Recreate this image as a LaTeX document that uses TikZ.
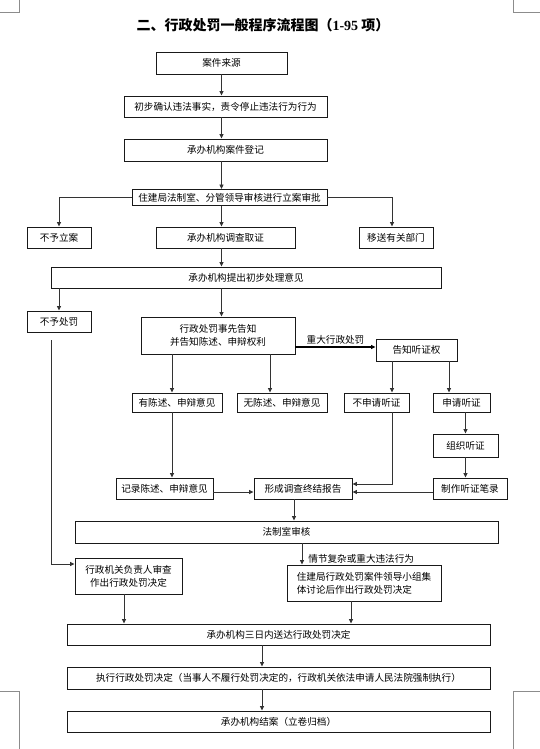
\documentclass[tikz,border=0pt]{standalone}
\usepackage{fontspec}
\setmainfont{Noto Sans CJK SC}
\newfontfamily\titlenum{Liberation Serif}
\usetikzlibrary{arrows.meta,positioning,calc}

\begin{document}
\begin{tikzpicture}[x=1pt, y=-1pt,
    box/.style={rectangle, draw=black!90, line width=0.9pt, minimum width=#1, minimum height=21pt, inner sep=1pt, font=\fontsize{9.6}{13}\selectfont, align=center},
    arr/.style={-{Triangle[length=4.5pt, width=4pt]}, line width=0.85pt, draw=black!80},
    heavy/.style={line width=1.6pt, draw=black},
    lbl/.style={font=\fontsize{9.6}{11}\selectfont, inner sep=2pt},
    cropmark/.style={draw=black!45, line width=0.6pt}
]
\useasboundingbox (0,0) rectangle (540,749);
\draw[cropmark] (19,0) -- (19,12) -- (0,12);
\draw[cropmark] (513,0) -- (513,12) -- (540,12);
\draw[cropmark] (0,691) -- (19,691) -- (19,749);
\draw[cropmark] (540,691) -- (513,691) -- (513,749);

\node[font=\fontsize{14}{16}\selectfont\bfseries] (title) at (263,25) {二、行政处罚一般程序流程图（{\titlenum 1-95} 项）};

\node[box=131pt, minimum height=22pt] (src) at (221.5,63) {案件来源};
\node[box=203pt] (confirm) at (225.5,106.5) {初步确认违法事实，责令停止违法行为行为};
\node[box=203pt, minimum height=22pt] (reg) at (225.5,150) {承办机构案件登记};
\node[box=195pt, minimum height=16pt] (approve) at (229.5,197.5) {住建局法制室、分管领导审核进行立案审批};
\node[box=64pt] (nocase) at (59,237.5) {不予立案};
\node[box=139pt] (invest) at (225.5,237.5) {承办机构调查取证};
\node[box=74pt] (transfer) at (396,237.5) {移送有关部门};
\node[box=390pt] (propose) at (246,277.5) {承办机构提出初步处理意见};
\node[box=64pt] (nopen) at (59,321.5) {不予处罚};
\node[box=154pt, minimum height=37pt] (notify) at (218,335.5) {行政处罚事先告知\\并告知陈述、申辩权利};
\node[box=81pt, minimum height=22pt] (hear) at (416.5,350) {告知听证权};
\node[box=90pt, minimum height=19pt] (stmt) at (177,402.5) {有陈述、申辩意见};
\node[box=90pt, minimum height=19pt] (nostmt) at (282,402.5) {无陈述、申辩意见};
\node[box=65pt, minimum height=19pt] (noapply) at (376.5,402.5) {不申请听证};
\node[box=57pt, minimum height=19pt] (apply) at (461.5,402.5) {申请听证};
\node[box=65pt, minimum height=23pt] (organize) at (465.5,445.5) {组织听证};
\node[box=97pt] (record) at (164.5,488.5) {记录陈述、申辩意见};
\node[box=98pt] (report) at (303,488.5) {形成调查终结报告};
\node[box=74pt] (transcript) at (470,488.5) {制作听证笔录};
\node[box=423pt, minimum height=22pt] (legal) at (286.5,532) {法制室审核};
\node[box=107pt, minimum height=36pt] (chief) at (128.5,576) {行政机关负责人审查\\作出行政处罚决定};
\node[box=154pt, minimum height=36pt, align=left] (group) at (364,583) {住建局行政处罚案件领导小组集\\体讨论后作出行政处罚决定};
\node[box=423pt] (deliver) at (278.5,634.5) {承办机构三日内送达行政处罚决定};
\node[box=423pt, minimum height=22pt] (execute) at (278.5,678) {执行行政处罚决定（当事人不履行处罚决定的，行政机关依法申请人民法院强制执行）};
\node[box=423pt] (close) at (278.5,721.5) {承办机构结案（立卷归档）};
\coordinate (gap) at (51,340);

\draw[arr] (src.south) -- (src.south |- confirm.north);
\draw[arr] (confirm.south -| src) -- (reg.north -| src);
\draw[arr] (reg.south -| src) -- (approve.north -| src);
\draw[arr] (approve.west) -| (nocase.north);
\draw[arr] (approve.south -| src) -- (invest.north -| src);
\draw[arr] (approve.east) -| (transfer.north -| 392,0);
\draw[arr] (invest.south -| src) -- (propose.north -| src);
\draw[arr] (propose.south -| nocase) -- (nopen.north);
\draw[arr] (propose.south -| src) -- (notify.north -| src);
\draw[arr, heavy] (notify.east |- 0,347) -- (hear.west |- 0,347) node[lbl, midway, above] {重大行政处罚};
\draw[arr] (notify.south -| 172,0) -- (stmt.north -| 172,0);
\draw[arr] (notify.south -| 270,0) -- (nostmt.north -| 270,0);
\draw[arr] (hear.south -| 392,0) -- (noapply.north -| 392,0);
\draw[arr] (hear.south -| 449,0) -- (apply.north -| 449,0);
\draw[arr] (apply.south -| organize) -- (organize.north);
\draw[arr] (organize.south) -- (transcript.north -| organize);
\draw[arr] (stmt.south -| 172,0) -- (record.north -| 172,0);
\draw[arr] (record.east |- 0,492) -- (report.west |- 0,492);
\draw[arr] (noapply.south -| 392,0) |- (report.east |- 0,484);
\draw[arr] (transcript.west |- 0,492) -- (report.east |- 0,492);
\draw[arr] (report.south -| 294,0) -- (legal.north -| 294,0);
\draw[arr] (legal.south -| 302,0) -- (group.north -| 302,0) node[lbl, pos=0.72, right=4pt] {情节复杂或重大违法行为};
\draw[arr] (gap) |- (chief.west |- 0,564);
\draw[arr] (chief.south -| 124,0) -- (deliver.north -| 124,0);
\draw[arr] (group.south -| 351,0) -- (deliver.north -| 351,0);
\draw[arr] (deliver.south -| 262,0) -- (execute.north -| 262,0);
\draw[arr] (execute.south -| 262,0) -- (close.north -| 262,0);
\end{tikzpicture}
\end{document}
